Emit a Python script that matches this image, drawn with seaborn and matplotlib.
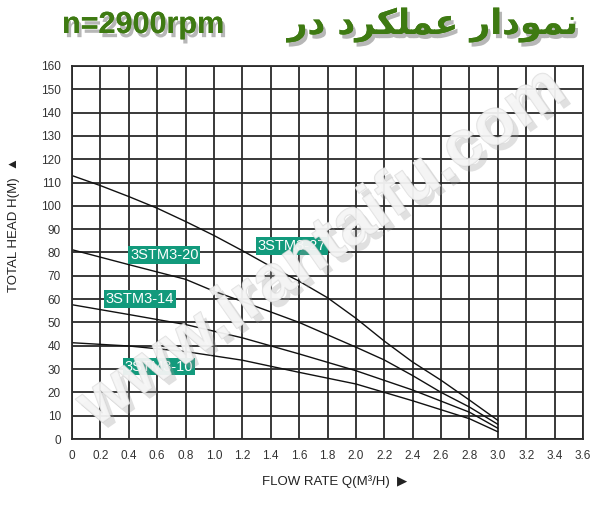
import matplotlib
matplotlib.use('Agg')
import matplotlib.pyplot as plt
import matplotlib.patheffects as pe
import numpy as np
import pandas as pd
import seaborn as sns

# flow rate Q (m3/h) and total head H (m)
q_27 = [0, 0.2, 0.4, 0.6, 0.8, 1.0, 1.2, 1.4, 1.6, 1.8, 2.0, 2.2, 2.4, 2.6, 2.8, 3.0]
h_27 = [113.0, 108.7, 104.0, 99.0, 93.3, 87.3, 80.8, 74.0, 67.7, 60.6, 51.8, 42.0, 33.0, 25.2, 16.7, 8.0]
q_20 = [0, 0.4, 0.8, 1.0, 1.2, 1.6, 2.0, 2.2, 2.4, 2.6, 2.8, 3.0]
h_20 = [81.2, 74.8, 68.5, 63.4, 59.0, 50.0, 39.4, 33.9, 27.2, 20.0, 13.7, 6.3]
q_14 = [0, 0.4, 0.8, 1.2, 1.6, 2.0, 2.4, 2.8, 3.0]
h_14 = [57.6, 53.4, 49.1, 43.4, 36.5, 29.3, 21.0, 11.5, 4.6]
q_10 = [0, 0.4, 0.8, 1.2, 1.6, 2.0, 2.4, 2.8, 3.0]
h_10 = [41.3, 39.9, 37.5, 33.8, 28.6, 23.6, 16.4, 8.7, 3.1]

models = ['3STM3-27', '3STM3-20', '3STM3-14', '3STM3-10']
label_x = [1.55, 0.65, 0.48, 0.61]
label_y = [82.8, 79.0, 60.0, 31.0]

xticks = np.round(np.arange(0, 3.61, 0.2), 1)
xticklabels = ['0'] + [f'{v:.1f}' for v in xticks[1:]]
yticks = list(range(0, 161, 10))

frames = []
for name, q, h in zip(models, [q_27, q_20, q_14, q_10], [h_27, h_20, h_14, h_10]):
    frames.append(pd.DataFrame({'Q': q, 'H': h, 'model': name}))
df = pd.concat(frames, ignore_index=True)

sns.set_style('white')
plt.rcParams['font.family'] = ['Liberation Sans', 'DejaVu Sans']

W, H = 615, 505
fig = plt.figure(figsize=(W / 100, H / 100), dpi=100)
ax = fig.add_axes([72 / W, (H - 439) / H, 511 / W, 373 / H])

sns.lineplot(data=df, x='Q', y='H', units='model', estimator=None,
             color='#111111', linewidth=1.0, ax=ax, sort=False)

ax.set_xlim(0, 3.6)
ax.set_ylim(0, 160)
ax.set_xticks(xticks)
ax.set_xticklabels(xticklabels)
ax.set_yticks(yticks)
ax.grid(True, color='#2a2a2a', linewidth=1.3)
ax.set_axisbelow(True)
for s in ax.spines.values():
    s.set_color('#2a2a2a')
    s.set_linewidth(1.3)
ax.tick_params(length=0, labelsize=8.5, labelcolor='#333333', pad=8)
ax.set_xlabel('')
ax.set_ylabel('')

for name, lx, ly in zip(models, label_x, label_y):
    ax.text(lx, ly, name, ha='center', va='center', fontsize=10.5, color='white',
            zorder=6, bbox=dict(boxstyle='square,pad=0.12', fc='#129a7c', ec='none'))

# watermark
fig.text(322 / W, 1 - 248 / H, 'www.irantaifu.com', rotation=35, fontsize=47,
         fontweight='bold', color='#f6f6f6', ha='center', va='center',
         alpha=0.6, zorder=5,
         path_effects=[pe.withSimplePatchShadow(offset=(4, -4), shadow_rgbFace='#999999', alpha=0.3),
                       pe.withStroke(linewidth=1.0, foreground='#d0d0d0')])

# axis titles
fig.text(14 / W, 1 - 225 / H, 'TOTAL HEAD H(M)  \u25b2', rotation=90, ha='center',
         va='center', fontsize=9.5, color='#222222', family=['Liberation Sans', 'DejaVu Sans'])
fig.text(335 / W, 1 - 482 / H, 'FLOW RATE Q(M\u00b3/H)  \u25b6', ha='center', va='center',
         fontsize=9.5, color='#222222', family=['Liberation Sans', 'DejaVu Sans'])

# title
shadow = [pe.withSimplePatchShadow(offset=(2, -3), shadow_rgbFace='#888888', alpha=0.6), pe.Normal()]
fig.text(62 / W, 1 - 33 / H, 'n=2900rpm', ha='left', va='baseline', fontsize=22,
         fontweight='bold', color='#3e7a12', family=['Liberation Sans', 'DejaVu Sans'],
         path_effects=shadow)
# Persian "نمودار عملکرد در" in presentation forms, visual order
fa_title = '\ufead\ufea9 \ufea9\ufeae\ufb91\ufee0\ufee4\ufecb \ufead\ufe8d\ufea9\ufeee\ufee4\ufee7'
fig.text(578 / W, 1 - 34 / H, fa_title, ha='right', va='baseline', fontsize=25,
         fontweight='bold', color='#3e7a12', family='DejaVu Sans', path_effects=shadow)

fig.savefig('out.png', dpi=100)
